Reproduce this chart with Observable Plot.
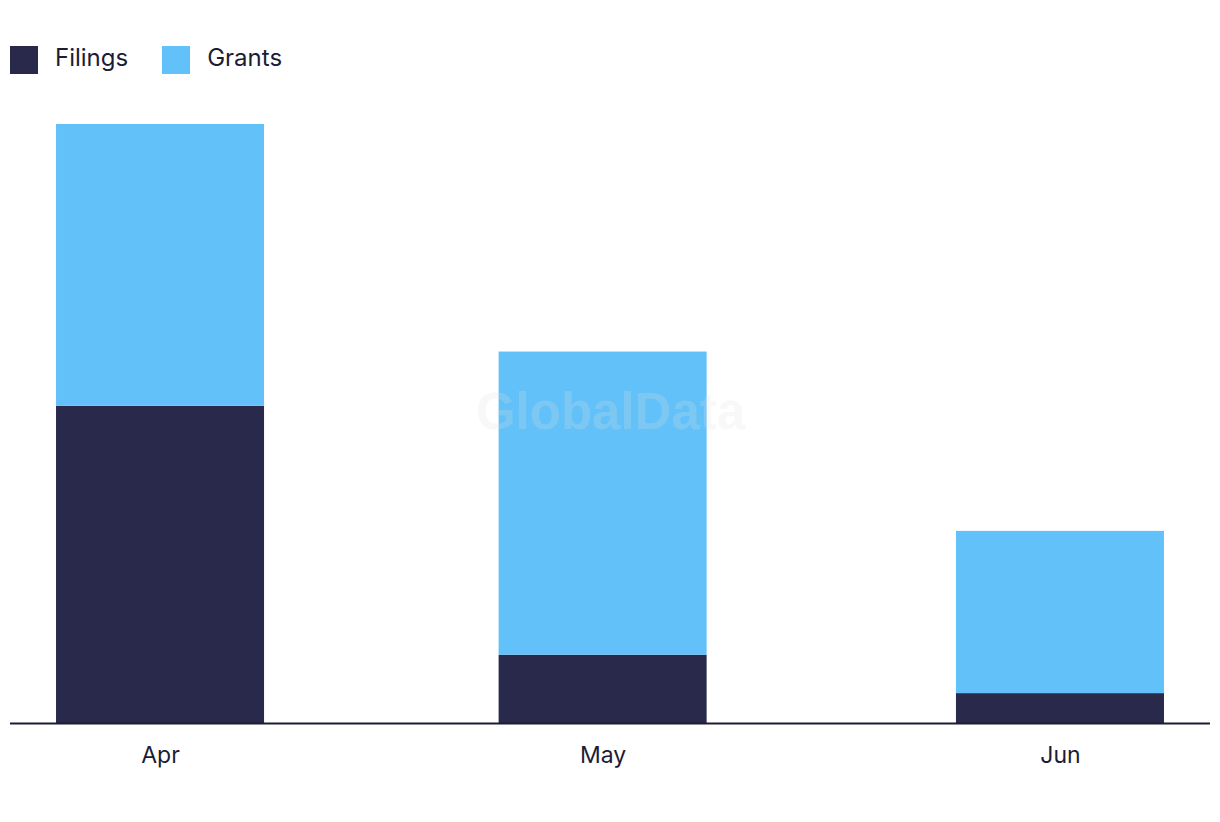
<!DOCTYPE html>
<html>
<head>
<meta charset="utf-8">
<script src="https://cdn.jsdelivr.net/npm/d3@7"></script>
<script src="https://cdn.jsdelivr.net/npm/@observablehq/plot@0.6"></script>
<style>
  html, body { margin: 0; padding: 0; background: #fff; }
  body { width: 1220px; height: 822px; overflow: hidden; font-family: Inter, "Noto Sans", sans-serif; color: #1c1c35; }
  #legend { position: absolute; left: 10px; top: 46px; display: flex; align-items: center; font-size: 24px; line-height: 28px; }
  .item { display: flex; align-items: center; margin-right: 34px; }
  .sw { width: 28px; height: 28px; margin-right: 17px; }
  .lbl { position: relative; top: -2px; }
  #chart { position: absolute; left: 0; top: 100px; }
</style>
</head>
<body>
<div id="legend"></div>
<div id="chart"></div>
<script>
const months = ["2023-04-01", "2023-05-01", "2023-06-01"];
const monthLabels = ["Apr", "May", "Jun"];
const series = ["Filings", "Grants"];
const filings = [74.3, 16, 7];
const grants = [66, 71, 38];
const colors = ["#28294b", "#62c1f9"];

const DAY = 86400000;
const dates = months.map(m => new Date(m + "T00:00:00Z"));
const halfBar = 7.05 * DAY;
const pad = 10.17 * DAY;

const rows = [];
dates.forEach((d, i) => {
  rows.push({date: d, series: "Filings", y1: 0, y2: filings[i]});
  rows.push({date: d, series: "Grants", y1: filings[i], y2: filings[i] + grants[i]});
});
const yMax = d3.max(rows, r => r.y2);

// legend
const legend = document.getElementById("legend");
series.forEach((s, i) => {
  const it = document.createElement("div");
  it.className = "item";
  it.innerHTML = `<span class="sw" style="background:${colors[i]}"></span><span class="lbl">${s}</span>`;
  legend.appendChild(it);
});

const chart = Plot.plot({
  width: 1220,
  height: 722,
  marginTop: 24,
  marginBottom: 99,
  marginLeft: 10,
  marginRight: 10,
  style: {fontFamily: "Inter, 'Noto Sans', sans-serif", background: "#fff"},
  x: {type: "utc", domain: [new Date(+dates[0] - pad), new Date(+dates[2] + pad)], axis: null},
  y: {domain: [0, yMax], axis: null},
  color: {domain: series, range: colors},
  marks: [
    Plot.rectY(rows, {
      x1: d => new Date(+d.date - halfBar),
      x2: d => new Date(+d.date + halfBar),
      y1: "y1", y2: "y2", fill: "series"
    }),
    Plot.ruleY([0], {stroke: "#1c1c35", strokeWidth: 2}),
    Plot.text(dates, {
      x: d => d, y: 0, text: (d, i) => monthLabels[i],
      dy: 32, fontSize: 23, fill: "#1c1c35", lineAnchor: "middle"
    }),
    Plot.text(["GlobalData"], {
      x: () => new Date((+dates[0] + +dates[2]) / 2), y: () => yMax / 2,
      dy: -11,
      text: d => d, fontSize: 51, fontWeight: "bold", fontFamily: "'Liberation Sans', Arial, sans-serif",
      fill: "#dddddd", fillOpacity: 0.22
    })
  ]
});
document.getElementById("chart").appendChild(chart);
</script>
</body>
</html>
